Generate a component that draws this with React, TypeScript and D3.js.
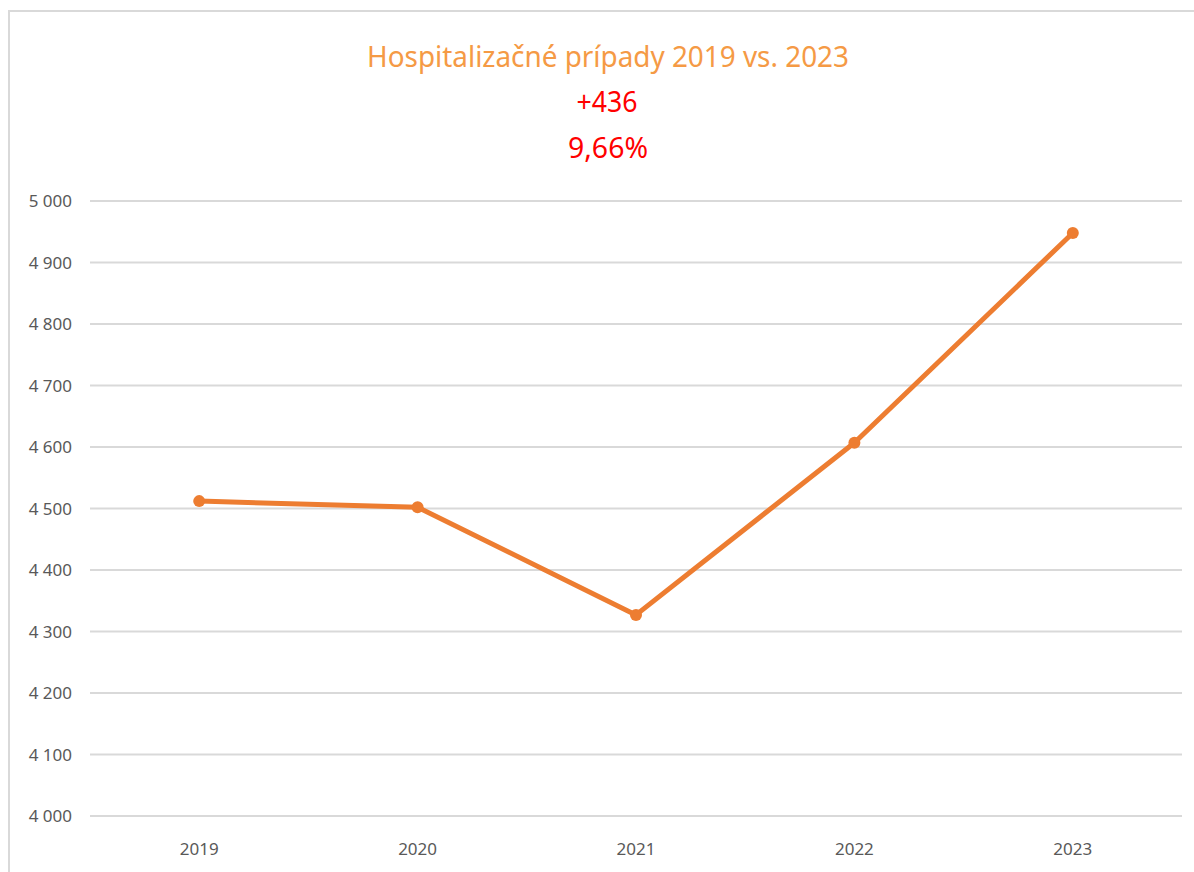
import { useEffect, useRef } from "react";
import * as d3 from "d3";

const years = ["2019", "2020", "2021", "2022", "2023"];
const cases = [4512, 4502, 4327, 4607, 4948];
const yTicks = [4000, 4100, 4200, 4300, 4400, 4500, 4600, 4700, 4800, 4900, 5000];
const titleLines = ["Hospitalizačné prípady 2019 vs. 2023", "+436", "9,66%"];

const W = 1194;
const H = 872;

export default function App() {
    const svgRef = useRef<SVGSVGElement>(null);

    useEffect(() => {
        if (!svgRef.current) return;
        const svg = d3.select(svgRef.current);
        svg.selectAll("*").remove();

        const font = "'Noto Sans', 'Open Sans', sans-serif";
        const plot = { left: 90, right: 1182, top: 201, bottom: 816 };

        // frame of the chart area
        svg.append("rect")
            .attr("x", 9)
            .attr("y", 11)
            .attr("width", W + 20)
            .attr("height", H + 20)
            .attr("fill", "#fff")
            .attr("stroke", "#d9d9d9")
            .attr("stroke-width", 2);

        const x = d3.scalePoint<string>().domain(years).range([plot.left, plot.right]).padding(0.5);
        const y = d3.scaleLinear().domain([4000, 5000]).range([plot.bottom, plot.top]);

        const fmt = d3.formatLocale({ thousands: " ", grouping: [3], decimal: ",", currency: ["", ""] }).format(",d");

        // gridlines
        svg.append("g")
            .selectAll("line")
            .data(yTicks)
            .enter()
            .append("line")
            .attr("x1", plot.left)
            .attr("x2", plot.right)
            .attr("y1", (d) => y(d))
            .attr("y2", (d) => y(d))
            .attr("stroke", "#d9d9d9")
            .attr("stroke-width", 2);

        // y labels
        svg.append("g")
            .selectAll("text")
            .data(yTicks)
            .enter()
            .append("text")
            .attr("x", 72)
            .attr("y", (d) => y(d))
            .attr("dy", "0.36em")
            .attr("text-anchor", "end")
            .attr("font-family", font)
            .attr("font-size", 17)
            .attr("fill", "#595959")
            .text((d) => fmt(d));

        // x labels
        svg.append("g")
            .selectAll("text")
            .data(years)
            .enter()
            .append("text")
            .attr("x", (d) => x(d) ?? 0)
            .attr("y", 855)
            .attr("text-anchor", "middle")
            .attr("font-family", font)
            .attr("font-size", 17)
            .attr("fill", "#595959")
            .text((d) => d);

        const pts = years.map((yr, i) => [x(yr) ?? 0, y(cases[i])] as [number, number]);

        svg.append("path")
            .attr("d", d3.line()(pts) ?? "")
            .attr("fill", "none")
            .attr("stroke", "#ed7d31")
            .attr("stroke-width", 5)
            .attr("stroke-linejoin", "round");

        svg.append("g")
            .selectAll("circle")
            .data(pts)
            .enter()
            .append("circle")
            .attr("cx", (d) => d[0])
            .attr("cy", (d) => d[1])
            .attr("r", 6)
            .attr("fill", "#ed7d31");

        // title block
        svg.append("text")
            .attr("x", 608)
            .attr("y", 67)
            .attr("text-anchor", "middle")
            .attr("font-family", font)
            .attr("font-size", 29)
            .attr("fill", "#f59a45")
            .attr("textLength", 482)
            .attr("lengthAdjust", "spacingAndGlyphs")
            .text(titleLines[0]);

        svg.append("text")
            .attr("x", 607)
            .attr("y", 112)
            .attr("text-anchor", "middle")
            .attr("font-family", font)
            .attr("font-size", 29)
            .attr("fill", "#ff0000")
            .attr("textLength", 61)
            .attr("lengthAdjust", "spacingAndGlyphs")
            .text(titleLines[1]);

        svg.append("text")
            .attr("x", 608)
            .attr("y", 158)
            .attr("text-anchor", "middle")
            .attr("font-family", font)
            .attr("font-size", 29)
            .attr("fill", "#ff0000")
            .attr("textLength", 80)
            .attr("lengthAdjust", "spacingAndGlyphs")
            .text(titleLines[2]);
    }, []);

    return (
        <svg
            ref={svgRef}
            width={W}
            height={H}
            style={{ position: "absolute", left: 0, top: 0, display: "block", background: "#fff" }}
        />
    );
}
